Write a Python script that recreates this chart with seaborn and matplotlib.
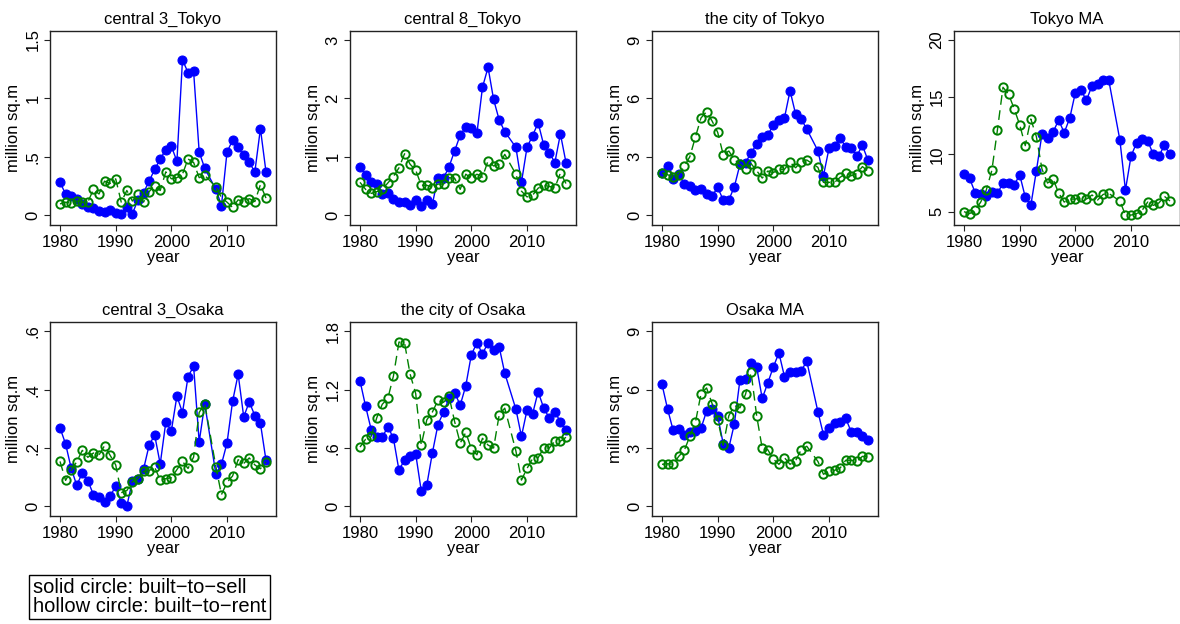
import matplotlib
matplotlib.use("Agg")
import matplotlib.pyplot as plt
import seaborn as sns

years = [1980, 1981, 1982, 1983, 1984, 1985, 1986, 1987, 1988, 1989,
         1990, 1991, 1992, 1993, 1994, 1995, 1996, 1997, 1998, 1999,
         2000, 2001, 2002, 2003, 2004, 2005, 2006, 2008, 2009, 2010,
         2011, 2012, 2013, 2014, 2015, 2016, 2017]

titles = ["central 3_Tokyo", "central 8_Tokyo", "the city of Tokyo", "Tokyo MA",
          "central 3_Osaka", "the city of Osaka", "Osaka MA"]

# built-to-sell (solid circles)
sell_c3_tokyo = [0.28, 0.18, 0.16, 0.14, 0.09, 0.07, 0.06, 0.035, 0.03, 0.04,
                 0.02, 0.01, 0.07, 0.01, 0.13, 0.19, 0.29, 0.39, 0.48, 0.56,
                 0.59, 0.46, 1.33, 1.22, 1.23, 0.54, 0.40, 0.22, 0.08, 0.54,
                 0.64, 0.58, 0.51, 0.45, 0.37, 0.74, 0.37]
sell_c8_tokyo = [0.83, 0.69, 0.57, 0.53, 0.36, 0.37, 0.27, 0.22, 0.22, 0.18,
                 0.26, 0.16, 0.26, 0.19, 0.64, 0.63, 0.83, 1.10, 1.37, 1.51,
                 1.50, 1.40, 2.19, 2.53, 1.98, 1.63, 1.43, 1.16, 0.56, 1.16,
                 1.36, 1.58, 1.20, 1.07, 0.90, 1.39, 0.90]
sell_city_tokyo = [2.16, 2.54, 1.85, 2.13, 1.58, 1.51, 1.29, 1.34, 1.08, 0.98,
                   1.42, 0.77, 0.77, 1.46, 2.60, 2.70, 3.19, 3.65, 4.00, 4.11,
                   4.63, 4.89, 5.00, 6.39, 5.19, 4.94, 4.42, 3.31, 2.02, 3.43,
                   3.55, 3.98, 3.48, 3.43, 3.05, 3.58, 2.81]
sell_tokyo_ma = [8.32, 7.91, 6.66, 6.51, 6.40, 6.72, 6.60, 7.50, 7.50, 7.30,
                 8.23, 6.28, 5.55, 8.58, 11.76, 11.44, 11.96, 13.01, 11.90, 13.19,
                 15.40, 15.60, 14.76, 16.00, 16.20, 16.50, 16.50, 11.26, 6.89, 9.84,
                 11.03, 11.32, 11.20, 10.00, 9.86, 10.80, 10.00]
sell_c3_osaka = [0.269, 0.214, 0.131, 0.072, 0.114, 0.088, 0.040, 0.032, 0.015, 0.035,
                 0.069, 0.013, 0.001, 0.086, 0.094, 0.127, 0.209, 0.245, 0.145, 0.288,
                 0.259, 0.378, 0.321, 0.445, 0.480, 0.221, 0.351, 0.111, 0.144, 0.217,
                 0.360, 0.453, 0.307, 0.358, 0.311, 0.285, 0.158]
sell_city_osaka = [1.29, 1.03, 0.79, 0.71, 0.71, 0.82, 0.70, 0.37, 0.48, 0.52,
                   0.54, 0.16, 0.22, 0.55, 0.84, 0.97, 1.11, 1.17, 1.04, 1.24,
                   1.56, 1.68, 1.57, 1.68, 1.61, 1.64, 1.37, 1.00, 0.72, 0.99,
                   0.95, 1.18, 1.01, 0.91, 0.97, 0.87, 0.79]
sell_osaka_ma = [6.27, 5.00, 3.91, 3.99, 3.69, 3.84, 3.89, 4.01, 4.89, 5.02,
                 4.63, 3.21, 3.00, 4.25, 6.51, 6.57, 7.39, 7.17, 5.55, 6.34,
                 7.17, 7.89, 6.67, 6.91, 6.91, 6.96, 7.47, 4.87, 3.69, 4.03,
                 4.27, 4.35, 4.53, 3.82, 3.82, 3.62, 3.39]

# built-to-rent (hollow circles)
rent_c3_tokyo = [0.095, 0.11, 0.10, 0.12, 0.11, 0.11, 0.22, 0.18, 0.29, 0.27,
                 0.31, 0.11, 0.21, 0.12, 0.18, 0.11, 0.20, 0.25, 0.21, 0.37,
                 0.31, 0.32, 0.35, 0.48, 0.45, 0.32, 0.34, 0.24, 0.15, 0.11,
                 0.065, 0.13, 0.115, 0.14, 0.115, 0.26, 0.145]
rent_c8_tokyo = [0.56, 0.44, 0.37, 0.40, 0.44, 0.55, 0.66, 0.81, 1.05, 0.87,
                 0.77, 0.51, 0.51, 0.47, 0.53, 0.53, 0.64, 0.63, 0.44, 0.70,
                 0.63, 0.70, 0.65, 0.93, 0.84, 0.87, 1.04, 0.70, 0.41, 0.31,
                 0.34, 0.46, 0.51, 0.49, 0.47, 0.72, 0.54]
rent_city_tokyo = [2.16, 2.07, 1.97, 2.07, 2.50, 3.00, 4.01, 4.99, 5.31, 4.83,
                   4.25, 3.10, 3.29, 2.85, 2.61, 2.37, 2.64, 2.28, 1.90, 2.26,
                   2.18, 2.35, 2.35, 2.71, 2.43, 2.74, 2.83, 2.45, 1.68, 1.68,
                   1.68, 1.94, 2.14, 2.02, 2.13, 2.49, 2.26]
rent_tokyo_ma = [5.00, 4.83, 5.12, 5.84, 6.89, 8.61, 12.14, 15.87, 15.28, 14.00,
                 12.60, 10.77, 13.10, 11.55, 8.73, 7.50, 7.85, 6.63, 5.84, 6.10,
                 6.10, 6.25, 6.10, 6.46, 6.02, 6.51, 6.60, 5.93, 4.70, 4.70,
                 4.83, 5.12, 5.84, 5.55, 5.76, 6.34, 5.93]
rent_c3_osaka = [0.154, 0.089, 0.123, 0.153, 0.192, 0.168, 0.183, 0.176, 0.208, 0.175,
                 0.142, 0.047, 0.054, 0.085, 0.095, 0.120, 0.122, 0.135, 0.089, 0.095,
                 0.098, 0.126, 0.154, 0.130, 0.169, 0.322, 0.352, 0.136, 0.040, 0.082,
                 0.104, 0.160, 0.147, 0.166, 0.142, 0.129, 0.152]
rent_city_osaka = [0.61, 0.69, 0.72, 0.91, 1.05, 1.11, 1.34, 1.69, 1.68, 1.36,
                   1.16, 0.63, 0.89, 0.97, 1.09, 1.07, 1.13, 0.87, 0.65, 0.76,
                   0.59, 0.53, 0.70, 0.63, 0.60, 0.94, 1.01, 0.57, 0.27, 0.39,
                   0.49, 0.50, 0.60, 0.60, 0.67, 0.67, 0.71]
rent_osaka_ma = [2.16, 2.19, 2.16, 2.57, 2.88, 3.60, 4.32, 5.78, 6.09, 5.28,
                 4.46, 3.14, 4.66, 5.18, 5.07, 5.76, 6.89, 4.66, 2.98, 2.91,
                 2.43, 2.16, 2.50, 2.16, 2.35, 2.91, 3.09, 2.31, 1.65, 1.80,
                 1.85, 1.97, 2.37, 2.37, 2.31, 2.57, 2.54]

ytick_values = [[0, 0.5, 1, 1.5], [0, 1, 2, 3], [0, 3, 6, 9], [5, 10, 15, 20],
                [0, 0.2, 0.4, 0.6], [0, 0.6, 1.2, 1.8], [0, 3, 6, 9]]
ytick_labels = [["0", ".5", "1", "1.5"], ["0", "1", "2", "3"], ["0", "3", "6", "9"],
                ["5", "10", "15", "20"], ["0", ".2", ".4", ".6"],
                ["0", ".6", "1.2", "1.8"], ["0", "3", "6", "9"]]
xtick_values = [1980, 1990, 2000, 2010]

sell = [sell_c3_tokyo, sell_c8_tokyo, sell_city_tokyo, sell_tokyo_ma,
        sell_c3_osaka, sell_city_osaka, sell_osaka_ma]
rent = [rent_c3_tokyo, rent_c8_tokyo, rent_city_tokyo, rent_tokyo_ma,
        rent_c3_osaka, rent_city_osaka, rent_osaka_ma]

# layout
ylims = [(-0.0857, 1.577), (-0.171, 3.154), (-0.514, 9.463), (3.835, 20.79),
         (-0.0331, 0.632), (-0.0994, 1.896), (-0.497, 9.48)]
W, H = 1180, 624
lefts_px = [50, 350, 652, 954, 50, 350, 652]
tops_px = [31, 31, 31, 31, 322, 322, 322]
w_px, h_px = 226, 194

sns.set_theme(style="ticks")
plt.rcParams['font.family'] = ['Liberation Sans', 'DejaVu Sans']
plt.rcParams['axes.edgecolor'] = '#222222'
plt.rcParams['axes.linewidth'] = 1.0
plt.rcParams['text.color'] = 'black'
plt.rcParams['axes.labelcolor'] = 'black'
plt.rcParams['xtick.color'] = '#222222'
plt.rcParams['ytick.color'] = '#222222'
plt.rcParams['xtick.labelcolor'] = 'black'
plt.rcParams['ytick.labelcolor'] = 'black'

BLUE = '#0000FF'
GREEN = '#008000'
FS = 12

fig = plt.figure(figsize=(W / 100, H / 100), dpi=100)
for i in range(7):
    ax = fig.add_axes([lefts_px[i] / W, 1 - (tops_px[i] + h_px) / H, w_px / W, h_px / H])
    sns.lineplot(x=years, y=sell[i], ax=ax, color=BLUE, marker='o', markersize=6.5,
                 markeredgecolor=BLUE, markerfacecolor=BLUE, linewidth=1.0,
                 estimator=None, sort=False)
    sns.lineplot(x=years, y=rent[i], ax=ax, color=GREEN, marker='o', markersize=6,
                 markeredgecolor=GREEN, markerfacecolor='none', markeredgewidth=1.4,
                 linewidth=1.0, linestyle=(0, (7, 4)), estimator=None, sort=False)
    ax.set_xlim(1978.2, 2018.8)
    ax.set_ylim(*ylims[i])
    ax.set_xticks(xtick_values)
    ax.set_xticklabels([str(v) for v in xtick_values], fontsize=FS)
    ax.set_yticks(ytick_values[i])
    ax.set_yticklabels(ytick_labels[i], fontsize=FS, rotation=90, va='center')
    ax.tick_params(axis='both', direction='out', length=4, width=0.8, pad=3)
    ax.set_xlabel("year", fontsize=FS, labelpad=0)
    ax.set_ylabel("million sq.m", fontsize=FS, labelpad=3)
    ax.set_title(titles[i], fontsize=FS, pad=5)
    for s in ax.spines.values():
        s.set_visible(True)

fig.text(33 / W, 1 - 597 / H,
         "solid circle: built\u2212to\u2212sell\nhollow circle: built\u2212to\u2212rent",
         fontsize=14.5, va='center', ha='left', linespacing=0.95,
         bbox=dict(boxstyle='square,pad=0.18', facecolor='white', edgecolor='black',
                   linewidth=1.0))

fig.savefig("out.png", dpi=100)
